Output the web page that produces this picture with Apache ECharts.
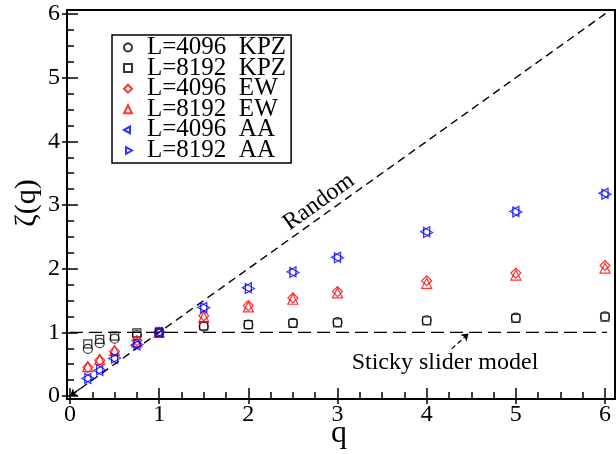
<!DOCTYPE html>
<html><head><meta charset="utf-8">
<script src="https://cdn.jsdelivr.net/npm/echarts@6/dist/echarts.min.js"></script>
<style>html,body{margin:0;padding:0;background:#fff}#c{width:616px;height:454px}</style>
</head><body><div id="c"></div>
<script>
// ---- data ----
const qValues = [0.2, 1/3, 0.5, 0.75, 1, 1.5, 2, 2.5, 3, 4, 5, 6];
const kpz4096 = [0.74, 0.83, 0.90, 0.955, 1.0, 1.09, 1.12, 1.15, 1.16, 1.19, 1.23, 1.25];
const kpz8192 = [0.82, 0.89, 0.94, 0.99, 1.0, 1.10, 1.12, 1.14, 1.15, 1.18, 1.22, 1.24];
const ew4096  = [0.45, 0.56, 0.70, 0.87, 1.0, 1.26, 1.42, 1.54, 1.64, 1.81, 1.93, 2.05];
const ew8192  = [0.46, 0.575, 0.715, 0.85, 1.0, 1.24, 1.40, 1.52, 1.62, 1.77, 1.90, 2.01];
const aa4096  = [0.275, 0.40, 0.59, 0.80, 1.0, 1.39, 1.70, 1.95, 2.18, 2.58, 2.90, 3.185];
const aa8192  = [0.28, 0.41, 0.595, 0.81, 1.0, 1.385, 1.69, 1.94, 2.17, 2.57, 2.89, 3.17];
const randomLine = [[0, 0], [6.07, 6.07]];
const stickyLine = [[0, 1], [6.1, 1]];
const xTicks = [0, 1, 2, 3, 4, 5, 6];
const yTicks = [0, 1, 2, 3, 4, 5, 6];
const seriesNames = ['L=4096  KPZ', 'L=8192  KPZ', 'L=4096  EW', 'L=8192  EW', 'L=4096  AA', 'L=8192  AA'];

const FONT = "'Liberation Serif','Times New Roman',serif";
const zip = (xs, ys) => xs.map((x, i) => [x, ys[i]]);

function scatter(name, vals, symbol, size, color) {
  return {
    name, type: 'scatter', data: zip(qValues, vals), symbol, symbolSize: size,
    clip: false, z: 5,
    itemStyle: { color: 'rgba(0,0,0,0)', borderColor: color, borderWidth: 1.2 }
  };
}
// triangles padded so that the symbol centre is the triangle centroid
const LEFT_TRI = 'path://M0,5L9,0L9,10Z M12,5';
const RIGHT_TRI = 'path://M3,0L12,5L3,10Z M0,5';

const axisCommon = {
  type: 'value', min: 0, max: 6, interval: 1,
  axisLine: { show: false },
  splitLine: { show: false },
  axisTick: { inside: true, length: 8, lineStyle: { color: '#000', width: 1.5 } },
  minorTick: { show: true, splitNumber: 4, length: 4, lineStyle: { color: '#000', width: 1.5 } }
};
const labelStyle = { fontFamily: FONT, fontSize: 24, color: '#000' };

const chart = echarts.init(document.getElementById('c'), null, { renderer: 'canvas' });
chart.setOption({
  animation: false,
  backgroundColor: '#fff',
  grid: { left: 70, right: 11, top: 14, bottom: 58 },
  xAxis: [
    Object.assign({}, axisCommon, { position: 'bottom', offset: 3,
      axisLabel: Object.assign({ margin: 4, formatter: v => xTicks.includes(v) ? String(v) : '' }, labelStyle) }),
    Object.assign({}, axisCommon, { position: 'top', offset: 4, axisLabel: { show: false } })
  ],
  yAxis: [
    Object.assign({}, axisCommon, { position: 'left', offset: 3,
      axisLabel: Object.assign({ margin: 7, formatter: v => yTicks.includes(v) ? String(v) : '' }, labelStyle) }),
    Object.assign({}, axisCommon, { position: 'right', offset: 10, axisLabel: { show: false } })
  ],
  legend: {
    orient: 'vertical', left: 112, top: 35,
    borderColor: '#000', borderWidth: 1.5, padding: [0, 5, 0, 11],
    itemWidth: 8, itemHeight: 8, itemGap: -4.4, itemTextGap: 6,
    textStyle: { fontFamily: FONT, fontSize: 25, color: '#000', padding: [0, 0, 0, 10] },
    data: seriesNames
  },
  series: [
    {
      name: 'Random', type: 'line', data: randomLine, symbol: 'none', clip: false, silent: true,
      lineStyle: { color: '#000', width: 1.4, type: [8, 5] }, z: 2,
      markLine: {
        silent: true, symbol: ['none', 'arrow'], symbolSize: 7, label: { show: false },
        lineStyle: { color: '#000', width: 1.2, type: 'solid' },
        data: [
          [{ coord: [0.12, 0.12] }, { coord: [0, 0] }],
          [{ coord: [4.28, 0.74], lineStyle: { type: [5, 3] } }, { coord: [4.47, 0.98] }]
        ]
      }
    },
    {
      name: 'Sticky', type: 'line', data: stickyLine, symbol: 'none', clip: false, silent: true,
      lineStyle: { color: '#000', width: 1.4, type: [13, 6] }, z: 2
    },
    scatter(seriesNames[0], kpz4096, 'circle', 9, '#000'),
    scatter(seriesNames[1], kpz8192, 'rect', 8, '#000'),
    scatter(seriesNames[2], ew4096, 'diamond', 10, '#ff0000'),
    scatter(seriesNames[3], ew8192, 'triangle', 10, '#ff0000'),
    scatter(seriesNames[4], aa4096, LEFT_TRI, [12, 10], '#0000ff'),
    scatter(seriesNames[5], aa8192, RIGHT_TRI, [12, 10], '#0000ff')
  ],
  graphic: [
    { type: 'rect', shape: { x: 67, y: 10, width: 548, height: 389 },
      style: { fill: 'none', stroke: '#000', lineWidth: 2 }, z: 10, silent: true },
    { type: 'text', x: 319, y: 202, rotation: 35.5 * Math.PI / 180,
      style: { text: 'Random', font: "24px " + FONT, fill: '#000', align: 'center', verticalAlign: 'middle' } },
    { type: 'text', x: 445, y: 363,
      style: { text: 'Sticky slider model', font: "24px " + FONT, fill: '#000', align: 'center', verticalAlign: 'middle' } },
    { type: 'text', x: 339, y: 434,
      style: { text: 'q', font: "32px " + FONT, fill: '#000', align: 'center', verticalAlign: 'middle' } },
    { type: 'text', x: 27, y: 203, rotation: Math.PI / 2,
      style: { text: 'ζ(q)', font: "30px " + FONT, fill: '#000', align: 'center', verticalAlign: 'middle' } }
  ]
});
</script></body></html>
